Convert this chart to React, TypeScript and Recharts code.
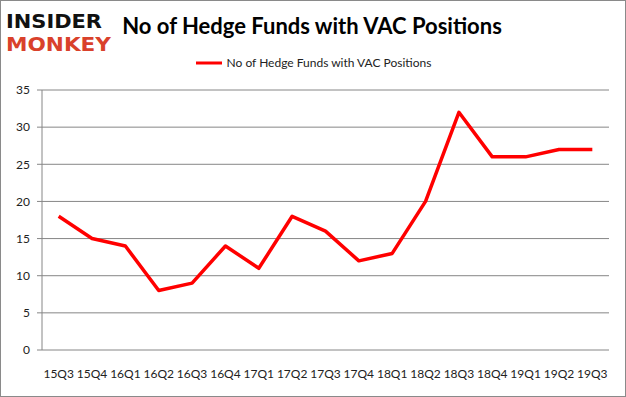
import { LineChart, Line, XAxis, YAxis, CartesianGrid } from 'recharts';

const quarters = ['15Q3', '15Q4', '16Q1', '16Q2', '16Q3', '16Q4', '17Q1', '17Q2', '17Q3', '17Q4', '18Q1', '18Q2', '18Q3', '18Q4', '19Q1', '19Q2', '19Q3'];
const funds = [18, 15, 14, 8, 9, 14, 11, 18, 16, 12, 13, 20, 32, 26, 26, 27, 27];
const yTicks = [0, 5, 10, 15, 20, 25, 30, 35];

const seriesName = 'No of Hedge Funds with VAC Positions';
const gray = '#868686';
const font = 'Lato, "Open Sans", sans-serif';

const data = quarters.map((q, i) => ({ q, pos: i + 0.5, value: funds[i] }));
const centerTicks = quarters.map((_, i) => i + 0.5);
const edgeTicks = [...quarters.map((_, i) => i), quarters.length];

const ChartLegend = () => (
  <div style={{ position: 'absolute', top: 54, left: 0, width: 624, display: 'flex', alignItems: 'center', justifyContent: 'center', fontFamily: font, fontSize: 12, color: '#222' }}>
    <svg width={28} height={10} style={{ marginRight: 4 }}>
      <line x1={1} y1={5} x2={27} y2={5} stroke="#ff0000" strokeWidth={3} />
    </svg>
    <span>{seriesName}</span>
  </div>
);

export default function App() {
  return (
    <div style={{ position: 'absolute', left: 0, top: 0, width: 626, height: 397, background: '#fff', border: '1px solid #8a8a8a', boxSizing: 'border-box' }}>
      <svg width={120} height={56} style={{ position: 'absolute', left: 0, top: 0 }}>
        <text x={5} y={27} textLength={96} lengthAdjust="spacingAndGlyphs" fontFamily='"DejaVu Sans", sans-serif' fontWeight={900} fontSize={19} fill="#111">INSIDER</text>
        <text x={5} y={50} textLength={105} lengthAdjust="spacingAndGlyphs" fontFamily='"DejaVu Sans", sans-serif' fontWeight={900} fontSize={19} fill="#d9412b">MONKEY</text>
      </svg>
      <div style={{ position: 'absolute', left: 0, width: 626, top: 11, textAlign: 'center', fontFamily: font, fontWeight: 700, fontSize: 22, color: '#000', paddingRight: 4, boxSizing: 'border-box' }}>
        {seriesName}
      </div>
      <ChartLegend />
      <LineChart width={624} height={395} data={data} margin={{ top: 89, right: 16, bottom: 10, left: 0 }}>
        <CartesianGrid vertical={false} stroke={gray} strokeWidth={1} />
        <XAxis
          xAxisId="edges"
          type="number"
          dataKey="pos"
          domain={[0, quarters.length]}
          ticks={edgeTicks}
          interval={0}
          height={0}
          stroke={gray}
          tickSize={5}
          tickFormatter={() => ''}
        />
        <XAxis
          xAxisId="labels"
          type="number"
          dataKey="pos"
          domain={[0, quarters.length]}
          ticks={centerTicks}
          interval={0}
          height={36}
          axisLine={false}
          tickLine={false}
          tickSize={6}
          tickMargin={13}
          tickFormatter={(v: number) => quarters[Math.floor(v)]}
          tick={{ fill: '#222', fontSize: 12, fontFamily: font }}
        />
        <YAxis
          width={41}
          domain={[0, 35]}
          ticks={yTicks}
          interval={0}
          stroke={gray}
          tickSize={5}
          tickMargin={7}
          tick={{ fill: '#222', fontSize: 12, fontFamily: font }}
        />
        <Line
          xAxisId="labels"
          type="linear"
          dataKey="value"
          name={seriesName}
          stroke="#ff0000"
          strokeWidth={3.5}
          strokeLinejoin="round"
          dot={false}
          isAnimationActive={false}
        />
      </LineChart>
    </div>
  );
}
